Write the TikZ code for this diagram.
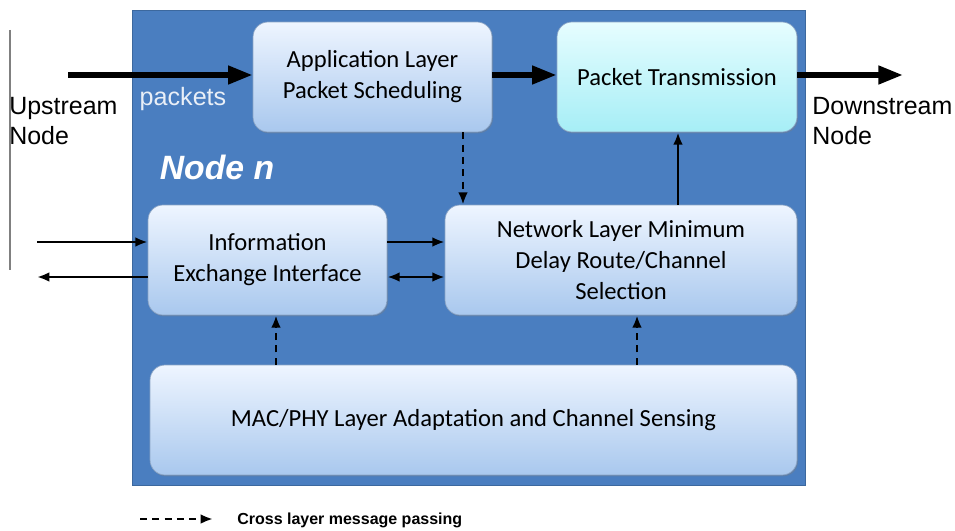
\documentclass[tikz,border=0pt]{standalone}
\usepackage{fontspec}
\setmainfont{Carlito}
\newfontfamily\arialfont{Liberation Sans}
\usetikzlibrary{arrows.meta, shadows}
\definecolor{nodeblue}{HTML}{4A7EC0}
\definecolor{nodeedge}{HTML}{3C689E}
\definecolor{boxtop}{HTML}{EEF5FF}
\definecolor{boxbottom}{HTML}{A9C8EE}
\definecolor{cyantop}{HTML}{E6FDFF}
\definecolor{cyanbottom}{HTML}{A6EEF6}
\tikzset{
layer/.style={rounded corners=0.3cm, draw=nodeedge!60, top color=boxtop, bottom color=boxbottom, align=center, font=\fontsize{14}{17.6}\selectfont, inner sep=2pt, drop shadow={opacity=0.35, shadow xshift=0.6pt, shadow yshift=-0.8pt}}, % the rounded boxes inside node n
bigarrow/.style={line width=3.2pt, -{Triangle[length=14pt, width=10pt]}}, % the packet flow
thinarrow/.style={line width=1.4pt, -{Latex[length=7pt, width=5.5pt]}}, % information flow
crossarrow/.style={thinarrow, dash pattern=on 4pt off 3pt}, % cross layer messages
outlabel/.style={font=\arialfont\fontsize{14.2}{17}\selectfont, align=left, inner sep=0pt},
}

\begin{document}
\begin{tikzpicture}[x=0.02cm, y=-0.02cm]
\useasboundingbox (0,0) rectangle (955,530);

% node n
\node[draw=nodeedge, fill=nodeblue, minimum width=13.46cm, minimum height=9.5cm, inner sep=0pt] at (468.5,247.5) (noden) {};
\node[font=\arialfont\bfseries\itshape\fontsize{19.2}{22}\selectfont, text=white] at (217,167) (title) {Node n};

\draw[gray, line width=0.8pt] (10,30) -- (10,270);

% layers
\node[layer, minimum width=4.78cm, minimum height=2.2cm] at (372.5,77) (app) {Application Layer\\Packet Scheduling};
\node[layer, top color=cyantop, bottom color=cyanbottom, minimum width=4.8cm, minimum height=2.2cm] at (677,77) (pt) {Packet Transmission};
\node[layer, minimum width=4.78cm, minimum height=2.2cm] at (267.5,260) (info) {Information\\Exchange Interface};
\node[layer, minimum width=7.04cm, minimum height=2.2cm] at (621,260) (net) {Network Layer Minimum\\Delay Route/Channel\\Selection};
\node[layer, minimum width=12.94cm, minimum height=2.2cm] at (473.5,420) (mac) {MAC/PHY Layer Adaptation and Channel Sensing};

% outside
\node[outlabel, anchor=west] at (9,121) (up) {Upstream\\Node};
\node[outlabel, anchor=west] at (812,121) (down) {Downstream\\Node};
\node[font=\arialfont\fontsize{14.3}{16}\selectfont, text=white!88!nodeblue] at (183,99) (pk) {packets};

\coordinate (upin) at (68,75);
\coordinate (downout) at (903,75);
\coordinate (flow) at (0,75);
\draw[bigarrow] (upin) -- (app.west |- flow);
\draw[bigarrow] (app.east |- flow) -- (pt.west |- flow);
\draw[bigarrow] (pt.east |- flow) -- (downout);

% between layers
\coordinate (c1) at (463,0);
\coordinate (c2) at (678,0);
\coordinate (c3) at (276,0);
\coordinate (c4) at (637,0);
\draw[crossarrow] (app.south -| c1) -- (net.north -| c1);
\draw[thinarrow] (net.north -| c2) -- (pt.south -| c2);
\draw[crossarrow] (mac.north -| c3) -- (info.south -| c3);
\draw[crossarrow] (mac.north -| c4) -- (net.south -| c4);

\coordinate (r1) at (37,242);
\coordinate (r2) at (37,277);
\draw[thinarrow] (r1) -- (info.west |- r1);
\draw[thinarrow] (info.west |- r2) -- (r2);
\draw[thinarrow] (info.east |- r1) -- (net.west |- r1);
\draw[thinarrow, {Latex[length=7pt, width=5.5pt]}-{Latex[length=7pt, width=5.5pt]}] (info.east |- r2) -- (net.west |- r2);

% legend
\coordinate (l1) at (140,519);
\coordinate (l2) at (213,519);
\draw[crossarrow] (l1) -- (l2);
\node[font=\arialfont\bfseries\fontsize{9.1}{10}\selectfont, anchor=west, inner sep=0pt] at (237,520) (leg) {Cross layer message passing};

\end{tikzpicture}
\end{document}
